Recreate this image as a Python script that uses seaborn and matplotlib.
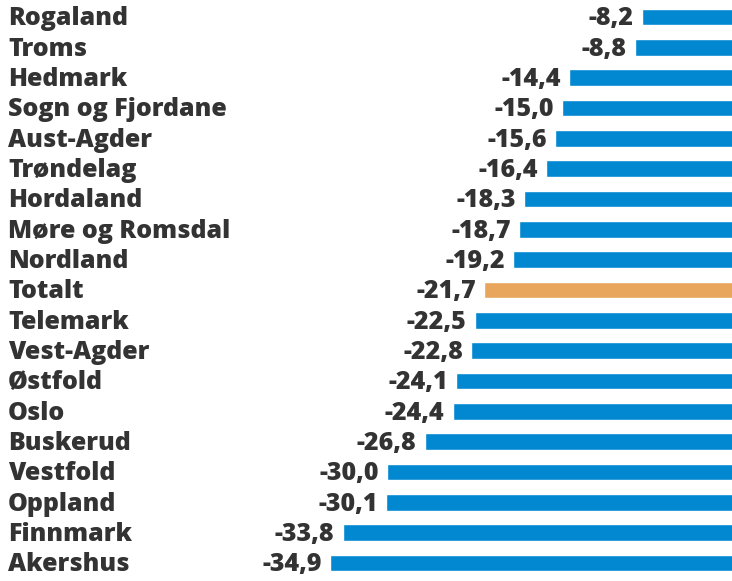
import matplotlib
matplotlib.use("Agg")
import matplotlib.pyplot as plt
import matplotlib.transforms as mtransforms
import seaborn as sns

# Data
regions = ["Rogaland", "Troms", "Hedmark", "Sogn og Fjordane", "Aust-Agder",
           "Trøndelag", "Hordaland", "Møre og Romsdal", "Nordland", "Totalt",
           "Telemark", "Vest-Agder", "Østfold", "Oslo", "Buskerud",
           "Vestfold", "Oppland", "Finnmark", "Akershus"]
values = [-8.2, -8.8, -14.4, -15.0, -15.6, -16.4, -18.3, -18.7, -19.2, -21.7,
          -22.5, -22.8, -24.1, -24.4, -26.8, -30.0, -30.1, -33.8, -34.9]

blue = "#0288d1"
orange = "#e8a55c"
colors = [orange if r == "Totalt" else blue for r in regions]

sns.set_style("white")
plt.rcParams['font.family'] = ['Open Sans', 'DejaVu Sans']

fig = plt.figure(figsize=(7.32, 5.81), dpi=100)
ax = fig.add_axes([0, 0, 1, 1])

sns.barplot(x=values, y=regions, hue=regions, palette=colors, legend=False,
            width=0.56, orient="h", saturation=1, ax=ax)

px_per_unit = 11.69
zero_px = 737.8
ax.set_xlim(-zero_px / px_per_unit, -(zero_px - 732) / px_per_unit)
row_px = 30.33
ax.set_ylim(18 + (581 - 563) / row_px, -17 / row_px)

text_color = "#333333"
trans = mtransforms.blended_transform_factory(ax.transAxes, ax.transData)
for i, (r, v) in enumerate(zip(regions, values)):
    ax.text(8 / 732, i + 0.06, r, transform=trans, ha="left", va="center",
            fontsize=18, fontweight="heavy", color=text_color)
    ax.text(v - 0.7, i + 0.06, f"{v:.1f}".replace(".", ","), ha="right", va="center",
            fontsize=18, fontweight="heavy", color=text_color)

ax.axis("off")
fig.savefig("out.png", dpi=100)
